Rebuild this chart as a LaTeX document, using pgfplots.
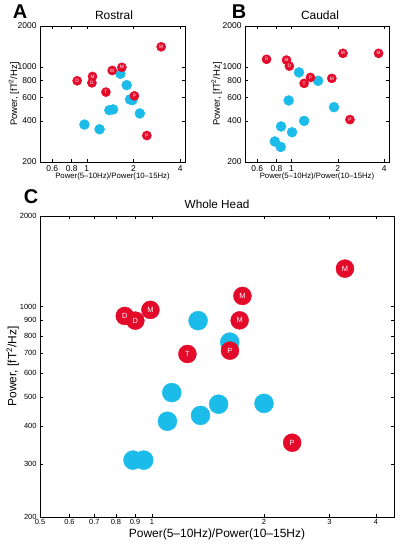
\documentclass[border=0pt]{standalone}
\usepackage{fontspec}
\setmainfont{Liberation Sans}
\usepackage{pgfplots}
\pgfplotsset{compat=1.18}
\usepackage{pgfplotstable}
\definecolor{redc}{RGB}{228,10,42}
\definecolor{bluec}{RGB}{28,188,234}

\pgfplotstableread{
x y l
3.02 1406 M
0.868 791 D
1.09 851 M
1.08 764 D
1.46 942 M
1.686 993 M
1.33 653 T
2.03 613 P
2.44 313 P
}\Ared
\pgfplotstableread{
x y
1.65 891
1.81 735
1.90 577
1.97 570
1.40 481
1.48 487
2.20 455
0.967 377
1.21 348
}\Ablue
\pgfplotstableread{
x y l
0.69 1138 D
0.93 1123 M
0.97 1014 D
2.16 1259 M
3.68 1259 M
1.33 837 P
1.21 757 T
1.83 824 M
2.40 410 P
}\Bred
\pgfplotstableread{
x y
1.12 912
1.49 791
0.96 567
1.89 506
1.21 401
0.857 365
1.01 331
0.78 283
0.853 258
}\Bblue
\pgfplotstableread{
x y l
3.30 1337 M
1.75 1085 M
0.99 975 M
0.845 931 D
0.902 898 D
1.72 900 M
1.245 696 T
1.62 714 P
2.38 353 P
}\Cred
\pgfplotstableread{
x y
1.33 898
1.618 762
1.13 518
1.51 474
2.0 477
1.10 416
1.35 435
0.889 309
0.95 309
}\Cblue

\pgfplotsset{
  mystyle/.style={
    scale only axis,
    ymin=200, ymax=2000,
    tick align=inside,
    major tick length=3bp,
    minor tick length=0pt,
    axis line style={line width=0.5pt},
    every tick/.style={black, line width=0.4pt},
    /pgf/number format/assume math mode=true,
  }
}

\begin{document}
\begin{tikzpicture}
\path[use as bounding box] (0,0) rectangle (400bp,-544bp);

% Panel A
\begin{loglogaxis}[mystyle,
  at={(40bp,-26bp)}, anchor=north west,
  width=145bp, height=136bp,
  xmin=0.5, xmax=4.3,
  xtick={0.6,0.8,1,2,4}, xticklabels={0.6,0.8,1,2,4},
  ytick={200,400,600,800,1000,2000}, yticklabels={200,400,600,800,1000,2000},
  tick label style={font=\fontsize{8.5}{8.5}\selectfont},
  xlabel={Power(5–10Hz)/Power(10–15Hz)},
  ylabel={Power, [fT\textsuperscript{2}/Hz]},
  xlabel style={font=\fontsize{7.8}{8}\selectfont, at={(axis description cs:0.5,0)}, anchor=center, yshift=-14bp},
  ylabel style={font=\fontsize{9.5}{9.5}\selectfont, at={(axis description cs:-0.18,0.5)}, anchor=center},
]
\addplot[only marks, mark=*, mark size=5bp, color=bluec] table[x=x,y=y] {\Ablue};
\addplot[only marks, mark=*, mark size=4.6bp, color=redc,
  nodes near coords, point meta=explicit symbolic,
  every node near coord/.append style={anchor=center, text=white, inner sep=0pt, font=\fontsize{4.8}{4.8}\selectfont}]
  table[x=x,y=y,meta=l] {\Ared};
\end{loglogaxis}

% Panel B
\begin{loglogaxis}[mystyle,
  at={(245bp,-26bp)}, anchor=north west,
  width=144bp, height=136bp,
  xmin=0.5, xmax=4.3,
  xtick={0.6,0.8,1,2,4}, xticklabels={0.6,0.8,1,2,4},
  ytick={200,400,600,800,1000,2000}, yticklabels={200,400,600,800,1000,2000},
  tick label style={font=\fontsize{8.5}{8.5}\selectfont},
  xlabel={Power(5–10Hz)/Power(10–15Hz)},
  ylabel={Power, [fT\textsuperscript{2}/Hz]},
  xlabel style={font=\fontsize{7.8}{8}\selectfont, at={(axis description cs:0.5,0)}, anchor=center, yshift=-14bp},
  ylabel style={font=\fontsize{9.5}{9.5}\selectfont, at={(axis description cs:-0.197,0.5)}, anchor=center},
]
\addplot[only marks, mark=*, mark size=5bp, color=bluec] table[x=x,y=y] {\Bblue};
\addplot[only marks, mark=*, mark size=4.6bp, color=redc,
  nodes near coords, point meta=explicit symbolic,
  every node near coord/.append style={anchor=center, text=white, inner sep=0pt, font=\fontsize{4.8}{4.8}\selectfont}]
  table[x=x,y=y,meta=l] {\Bred};
\end{loglogaxis}

% Panel C
\begin{loglogaxis}[mystyle,
  at={(40bp,-216bp)}, anchor=north west,
  width=354bp, height=301bp,
  xmin=0.5, xmax=4.47,
  xtick={0.5,0.6,0.7,0.8,0.9,1,2,3,4}, xticklabels={0.5,0.6,0.7,0.8,0.9,1,2,3,4},
  ytick={200,300,400,500,600,700,800,900,1000,2000},
  yticklabels={200,300,400,500,600,700,800,900,1000,2000},
  tick label style={font=\fontsize{7.5}{7.5}\selectfont},
  xticklabel style={yshift=1bp},
  xlabel={Power(5–10Hz)/Power(10–15Hz)},
  ylabel={Power, [fT\textsuperscript{2}/Hz]},
  label style={font=\fontsize{12}{12}\selectfont},
  xlabel style={at={(axis description cs:0.5,0)}, anchor=center, yshift=-17bp},
  ylabel style={at={(axis description cs:-0.077,0.5)}, anchor=center},
]
\addplot[only marks, mark=*, mark size=9.5bp, color=bluec] table[x=x,y=y] {\Cblue};
\addplot[only marks, mark=*, mark size=9bp, color=redc,
  nodes near coords, point meta=explicit symbolic,
  every node near coord/.append style={anchor=center, text=white, inner sep=0pt, font=\fontsize{7.5}{7.5}\selectfont}]
  table[x=x,y=y,meta=l] {\Cred};
\end{loglogaxis}

% Panel letters and titles
\node[font=\fontsize{20}{20}\selectfont\bfseries, inner sep=0pt] at (20bp,-11.5bp) {A};
\node[font=\fontsize{20}{20}\selectfont\bfseries, inner sep=0pt] at (239bp,-11.5bp) {B};
\node[font=\fontsize{20}{20}\selectfont\bfseries, inner sep=0pt] at (31bp,-197bp) {C};
\node[font=\fontsize{12}{12}\selectfont] at (114bp,-15bp) {Rostral};
\node[font=\fontsize{12}{12}\selectfont] at (320bp,-15bp) {Caudal};
\node[font=\fontsize{11.8}{11.8}\selectfont] at (217bp,-204bp) {Whole Head};
\end{tikzpicture}
\end{document}
